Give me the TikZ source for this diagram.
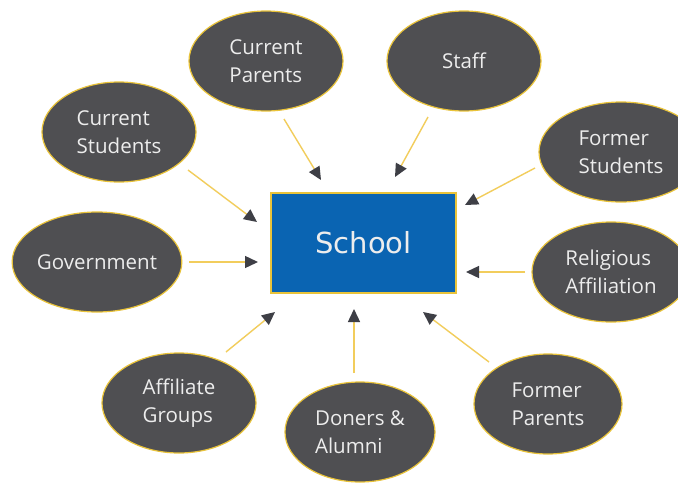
\documentclass[tikz,border=0pt]{standalone}
\usepackage{fontspec}
\newfontfamily\lblfont{Open Sans}
\newfontfamily\schfont{DejaVu Sans}
\usetikzlibrary{shapes.geometric,arrows.meta}
\definecolor{ellfill}{HTML}{4F4F52}
\definecolor{ellline}{HTML}{E9C33A}
\definecolor{arrline}{HTML}{F2CD5C}
\definecolor{tipcol}{HTML}{3E3F46}
\definecolor{boxblue}{HTML}{0A64B2}
\definecolor{lbltext}{HTML}{EDEDED}
\tikzset{
  stake/.style={ellipse, fill=ellfill, draw=ellline, line width=1.2pt,
    inner sep=0pt, minimum width=154pt, minimum height=100pt,
    text=lbltext, align=left, font=\lblfont\fontsize{20.5}{28}\selectfont},
  schoolbox/.style={rectangle, fill=boxblue, draw=ellline, line width=1.2pt,
    minimum width=185pt, minimum height=100pt, inner sep=0pt,
    text=lbltext, font=\schfont\fontsize{29}{34}\selectfont},
  conn/.style={draw=arrline, line width=1.4pt,
    -{Triangle[length=13pt,width=12pt,color=tipcol,fill=tipcol]}}
}
\begin{document}
\begin{tikzpicture}[x=1pt,y=-1pt]
\useasboundingbox[fill=white] (0,0) rectangle (678,485);
\node[schoolbox] (school) at (363.5,243) {School};
\node[stake] (cp) at (266,61) {Current\\Parents};
\node[stake] (staff) at (464,61) {Staff};
\node[stake] (cs) at (119,132) {Current\\Students};
\node[stake, minimum width=164pt] (fs) at (621,152) {Former\\Students};
\node[stake, minimum width=164pt] (gov) at (97,262) {Government};
\node[stake, minimum width=158pt] (rel) at (611,272) {Religious\\Affiliation};
\node[stake] (aff) at (179,403) {Affiliate\\Groups};
\node[stake, minimum width=150pt] (don) at (360,432) {Doners \&\\Alumni};
\node[stake, minimum width=148pt] (fp) at (548,404) {Former\\Parents};
% connector ends
\coordinate (cs-s) at (188,170);   \coordinate (cs-t) at (257,222);
\coordinate (cp-s) at (284,119);   \coordinate (cp-t) at (321,180);
\coordinate (staff-s) at (428,117); \coordinate (staff-t) at (395,177);
\coordinate (fs-s) at (535,168);   \coordinate (fs-t) at (465,205);
\coordinate (gov-s) at (189,262);  \coordinate (gov-t) at (258,262);
\coordinate (rel-s) at (525,272);  \coordinate (rel-t) at (466,272);
\coordinate (aff-s) at (226,352);  \coordinate (aff-t) at (275,312);
\coordinate (don-s) at (354,373);  \coordinate (don-t) at (354,309);
\coordinate (fp-s) at (489,362);   \coordinate (fp-t) at (423,312);
\foreach \n in {cs,cp,staff,fs,gov,rel,aff,don,fp}
  \draw[conn] (\n-s) -- (\n-t);
\end{tikzpicture}
\end{document}
